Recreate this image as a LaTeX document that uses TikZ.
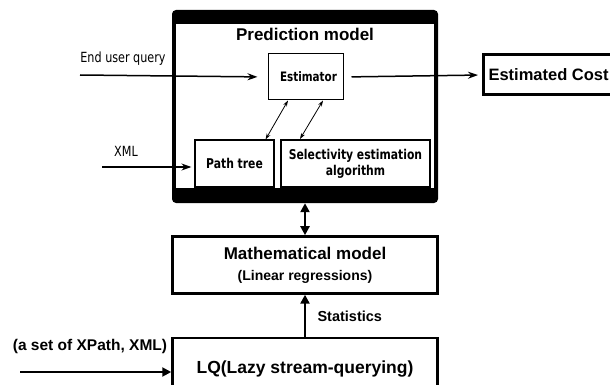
\documentclass[tikz,border=0pt]{standalone}
\usepackage{fontspec}
\setmainfont{Liberation Sans}
\newfontfamily\dvfont[FakeStretch=0.8]{DejaVu Sans}
\usetikzlibrary{positioning,arrows.meta,calc}
\tikzset{
  frm/.style={fill=black, rounded corners=4pt, inner sep=0pt},
  inbox/.style={draw, line width=#1, fill=white, align=center, inner sep=2pt, font=\dvfont\bfseries\fontsize{13.5}{16}\selectfont},
  inbox/.default=1.2pt,
  outbox/.style={draw, line width=2.5pt, fill=white, align=center, font=\bfseries\fontsize{17}{20}\selectfont},
  arr/.style={-{Stealth[length=10pt,width=7pt]}, line width=1.5pt},
  tarr/.style={{Stealth[length=6pt,width=4pt]}-{Stealth[length=6pt,width=4pt]}, line width=0.8pt},
  barr/.style={-{Triangle[length=9pt,width=9pt]}, line width=2.5pt},
  lbl/.style={font=\dvfont\fontsize{14}{16}\selectfont},
  blbl/.style={font=\bfseries\fontsize{14.5}{17}\selectfont},
}

\begin{document}
\begin{tikzpicture}[x=1pt, y=-1pt]
  \clip (0,0) rectangle (610,385);
  % prediction model frame
  \node[frm, minimum width=266pt, minimum height=193pt] (pm) at (305,106.5) {};
  \node[fill=white, inner sep=0pt, minimum width=258pt, minimum height=164pt] (pmin) at (305,106) {};
  \node[font=\bfseries\fontsize{17}{20}\selectfont] (title) at (305,34) {Prediction model};
  \node[inbox=1pt, minimum width=75pt, minimum height=46pt, font=\dvfont\bfseries\fontsize{13}{15}\selectfont] (est) at (305.5,77) {\hspace*{6pt}Estimator};
  \node[inbox=1.2pt, minimum width=79pt, minimum height=47pt] (pt) at (234.5,163.5) {Path tree};
  \node[inbox=2pt, minimum width=149pt, minimum height=47pt] (sel) at (355.5,163.5) {Selectivity estimation\\algorithm};
  \node[outbox, line width=3pt, anchor=west, minimum height=40pt, inner xsep=5pt, font=\bfseries\fontsize{16.5}{20}\selectfont] (cost) at (482,75) {Estimated Cost};
  % lower part
  \node[outbox, minimum width=265pt, minimum height=57pt, below=32pt of pm] (mm) {Mathematical model\\[1pt]{\fontsize{14}{17}\selectfont (Linear regressions)}};
  \node[outbox, minimum width=265pt, minimum height=62pt, below=42pt of mm, font=\bfseries\fontsize{17.5}{20}\selectfont] (lq) {\raisebox{-1pt}{LQ(Lazy stream-querying)}};
  % free ends of the inputs
  \coordinate (qin) at (80,75);
  \coordinate (xin) at (102,167);
  \coordinate (sin) at (20,372);
  \node[lbl, anchor=base] (qlbl) at (123,63) {End user query};
  \node[lbl, anchor=base] (xlbl) at (126,157) {XML};
  \node[blbl, font=\bfseries\fontsize{15.5}{18}\selectfont] (slbl) at (90,346) {(a set of XPath, XML)};
  \node[blbl, anchor=west] (stlbl) at (314,316) {Statistics};
  \draw[arr, shorten >=10pt] (qin) -- (est.west);
  \draw[arr, shorten >=3pt] (xin) -- (xin -| pt.west);
  \draw[arr, shorten <=8pt, shorten >=4pt] (est.east) -- (cost.west);
  \draw[tarr] ([xshift=-9pt]pt.north east) -- ([xshift=-17.5pt]est.south);
  \draw[tarr] ([xshift=20pt]sel.north west) -- ([xshift=17.5pt]est.south);
  \draw[barr, {Triangle[length=9pt,width=9pt]}-{Triangle[length=9pt,width=9pt]}] (pm.south) -- (mm.north);
  \draw[barr] (lq.north) -- (mm.south);
  \draw[barr, line width=2pt] (sin) -- (sin -| lq.west);
\end{tikzpicture}
\end{document}
